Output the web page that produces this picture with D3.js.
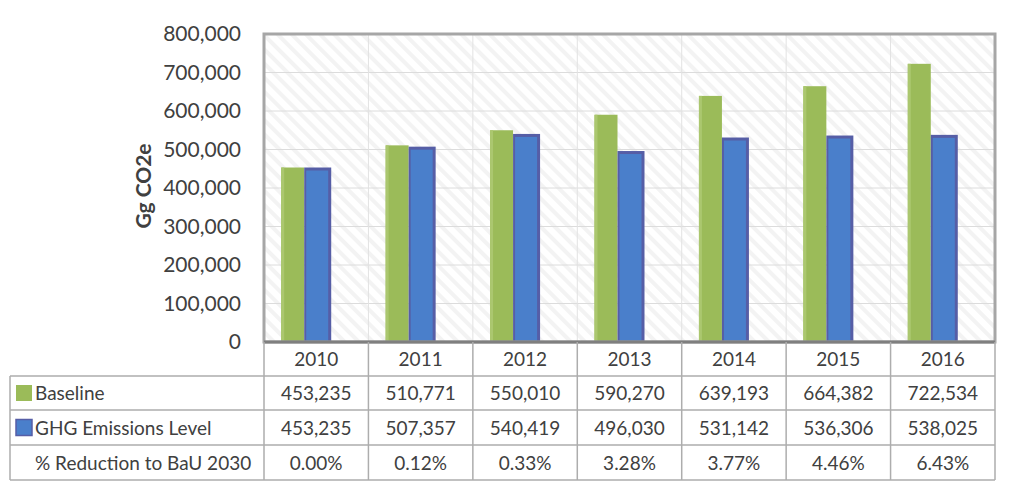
<!DOCTYPE html>
<html>
<head>
<meta charset="utf-8">
<script src="https://cdn.jsdelivr.net/npm/d3@7"></script>
<style>
  body { margin: 0; background: #fff; }
  svg text { font-family: Lato, "Open Sans", sans-serif; fill: #404040; }
</style>
</head>
<body>
<svg id="canvas" width="1017" height="495"></svg>
<script>
const years = ["2010", "2011", "2012", "2013", "2014", "2015", "2016"];
const baseline = [453235, 510771, 550010, 590270, 639193, 664382, 722534];
const ghg = [453235, 507357, 540419, 496030, 531142, 536306, 538025];
const reduction = ["0.00%", "0.12%", "0.33%", "3.28%", "3.77%", "4.46%", "6.43%"];
const yTicks = [0, 100000, 200000, 300000, 400000, 500000, 600000, 700000, 800000];

const svg = d3.select("#canvas");
const plotLeft = 264, plotRight = 995, plotTop = 34, plotBottom = 342;
const tableLeft = 10;
const rowLines = [342, 376, 410, 445, 480];

const x = d3.scaleBand().domain(years).range([plotLeft, plotRight]);
const y = d3.scaleLinear().domain([0, 800000]).range([plotBottom, plotTop]);
const fmt = d3.format(",");

// hatched plot background
const defs = svg.append("defs");
const pat = defs.append("pattern")
  .attr("id", "hatch")
  .attr("width", 10).attr("height", 10)
  .attr("patternUnits", "userSpaceOnUse")
  .attr("patternTransform", "rotate(-45)");
pat.append("rect").attr("width", 10).attr("height", 10).attr("fill", "#fff");
pat.append("rect").attr("width", 4).attr("height", 10).attr("fill", "#f3f3f3");

svg.append("rect")
  .attr("x", plotLeft).attr("y", plotTop)
  .attr("width", plotRight - plotLeft).attr("height", plotBottom - plotTop)
  .attr("fill", "url(#hatch)");

// horizontal grid
svg.append("g")
  .selectAll("line")
  .data(yTicks.slice(1, -1))
  .join("line")
  .attr("x1", plotLeft).attr("x2", plotRight)
  .attr("y1", d => y(d)).attr("y2", d => y(d))
  .attr("stroke", "#dcdcdc").attr("stroke-width", 1);

// vertical grid at category boundaries
svg.append("g")
  .selectAll("line")
  .data(years.slice(1))
  .join("line")
  .attr("x1", d => x(d)).attr("x2", d => x(d))
  .attr("y1", plotTop).attr("y2", plotBottom)
  .attr("stroke", "#e2e2e2").attr("stroke-width", 1);

// y axis labels
const yAxis = d3.axisLeft(y).tickValues(yTicks).tickFormat(fmt).tickSize(0).tickPadding(0);
const ga = svg.append("g").attr("transform", `translate(${plotLeft - 23},0)`).call(yAxis);
ga.select(".domain").remove();
ga.selectAll("text")
  .style("font-family", "Lato, 'Open Sans', sans-serif")
  .style("font-size", "21px")
  .attr("fill", "#404040");

svg.append("text")
  .attr("transform", `translate(151,${(plotTop + plotBottom) / 2 - 2}) rotate(-90)`)
  .attr("text-anchor", "middle")
  .style("font-size", "21px")
  .style("font-weight", "bold")
  .text("Gg CO2e");

// bars
const bw = 23;
const groupShift = -12;
const bars = svg.append("g");
years.forEach((yr, i) => {
  const c = x(yr) + x.bandwidth() / 2 + groupShift;
  // baseline (green)
  bars.append("rect")
    .attr("x", c - bw).attr("y", y(baseline[i]))
    .attr("width", bw).attr("height", y(0) - y(baseline[i]))
    .attr("fill", "#9bbb59");
  bars.append("rect")
    .attr("x", c - bw).attr("y", y(baseline[i]))
    .attr("width", 3).attr("height", y(0) - y(baseline[i]))
    .attr("fill", "#abc76f");
  // ghg (blue)
  bars.append("rect")
    .attr("x", c).attr("y", y(ghg[i]))
    .attr("width", bw + 4).attr("height", y(0) - y(ghg[i]))
    .attr("fill", "#565ea6");
  bars.append("rect")
    .attr("x", c + 2).attr("y", y(ghg[i]) + 3)
    .attr("width", bw - 1).attr("height", y(0) - y(ghg[i]) - 3)
    .attr("fill", "#4a7fcb");
});

// plot frame
svg.append("rect")
  .attr("x", plotLeft).attr("y", plotTop)
  .attr("width", plotRight - plotLeft).attr("height", plotBottom - plotTop)
  .attr("fill", "none").attr("stroke", "#a6a6a6").attr("stroke-width", 3);
svg.append("line")
  .attr("x1", plotLeft).attr("x2", plotRight).attr("y1", plotBottom).attr("y2", plotBottom)
  .attr("stroke", "#7f7f7f").attr("stroke-width", 3);

// data table
const tbl = svg.append("g");
const lineColor = "#adadad";
// vertical lines for year columns
[...years.map(d => x(d)), plotRight].forEach(xx => {
  tbl.append("line")
    .attr("x1", xx).attr("x2", xx).attr("y1", plotBottom).attr("y2", rowLines[4])
    .attr("stroke", lineColor).attr("stroke-width", 1.5);
});
// horizontal row lines
rowLines.slice(1).forEach(yy => {
  tbl.append("line")
    .attr("x1", tableLeft).attr("x2", plotRight).attr("y1", yy).attr("y2", yy)
    .attr("stroke", lineColor).attr("stroke-width", 1.5);
});
tbl.append("line")
  .attr("x1", tableLeft).attr("x2", tableLeft).attr("y1", rowLines[1]).attr("y2", rowLines[4])
  .attr("stroke", lineColor).attr("stroke-width", 1.5);

const rows = [
  { label: "Baseline", color: "#9bbb59", vals: baseline.map(fmt) },
  { label: "GHG Emissions Level", color: "#4a7fcb", edge: "#565ea6", vals: ghg.map(fmt) },
  { label: "% Reduction to BaU 2030", color: null, vals: reduction }
];

// year header
tbl.selectAll(".yr")
  .data(years)
  .join("text")
  .attr("class", "yr")
  .attr("x", d => x(d) + x.bandwidth() / 2)
  .attr("y", (rowLines[0] + rowLines[1]) / 2 + 7)
  .attr("text-anchor", "middle")
  .style("font-size", "19px")
  .text(d => d);

rows.forEach((r, ri) => {
  const cy = (rowLines[ri + 1] + rowLines[ri + 2]) / 2;
  if (r.color) {
    tbl.append("rect")
      .attr("x", 16).attr("y", cy - 8)
      .attr("width", 16).attr("height", 16)
      .attr("fill", r.color)
      .attr("stroke", r.edge || "none").attr("stroke-width", 1.5);
  }
  tbl.append("text")
    .attr("x", 35).attr("y", cy + 7)
    .style("font-size", "19px")
    .text(r.label);
  tbl.selectAll(".v" + ri)
    .data(r.vals)
    .join("text")
    .attr("class", "v" + ri)
    .attr("x", (d, i) => x(years[i]) + x.bandwidth() / 2)
    .attr("y", cy + 7)
    .attr("text-anchor", "middle")
    .style("font-size", "19px")
    .text(d => d);
});
</script>
</body>
</html>
